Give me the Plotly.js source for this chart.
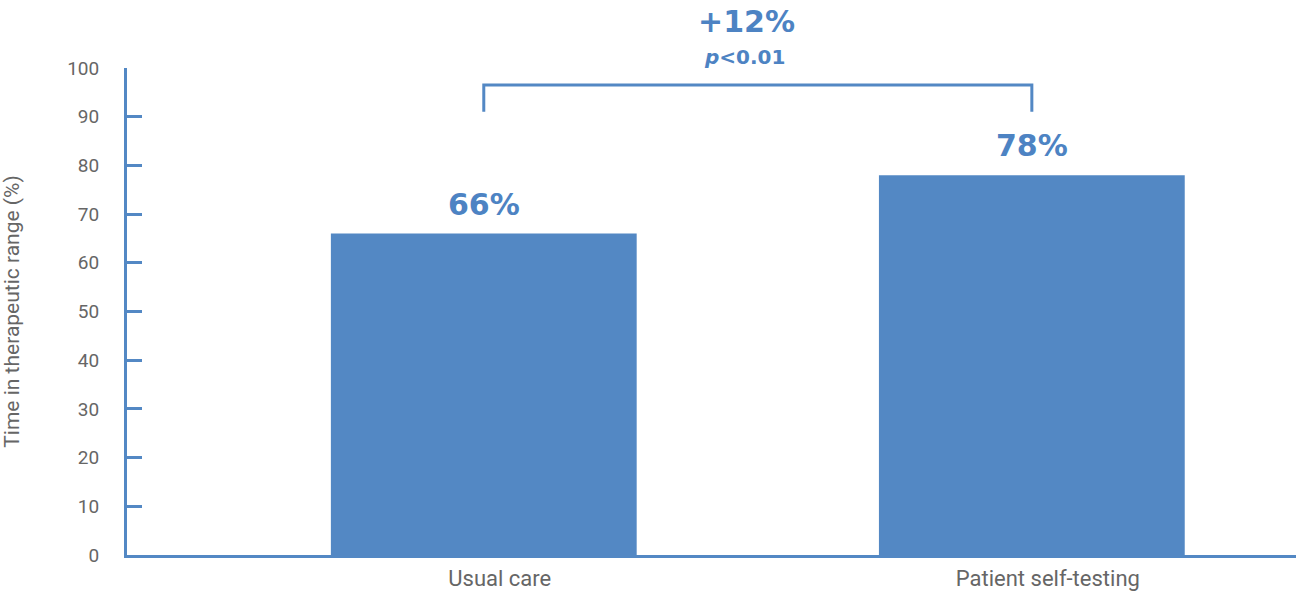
<!DOCTYPE html>
<html><head><meta charset="utf-8">
<script src="https://cdn.plot.ly/plotly-3.0.1.min.js"></script>
<style>html,body{margin:0;padding:0;background:#fff;}#chart{width:1296px;height:594px;}</style>
</head><body><div id="chart"></div>
<script>
const categories = ["Usual care", "Patient self-testing"];
const values = [66, 78];
const valueLabels = ["66%", "78%"];
const yTicks = [0, 10, 20, 30, 40, 50, 60, 70, 80, 90, 100];
const diffLabel = "+12%";
const pLabel = "<i>p</i>&lt;0.01";

const blue = "#5388c4";
const textBlue = "#4d83c3";
const gray = "#666666";
const xs = categories.map((c, i) => i);

const trace = {
  type: "bar", x: xs, y: values, width: 0.558,
  marker: {color: blue}, hoverinfo: "none"
};

const valueAnnotations = xs.map((x, i) => ({
  xref: "x", yref: "y", x: x, y: values[i], yanchor: "bottom", yshift: 10,
  text: valueLabels[i], showarrow: false,
  font: {family: "DejaVu Sans", size: 30, color: textBlue, weight: "bold"}
}));

const layout = {
  width: 1296, height: 594,
  margin: {l: 127, r: 0, t: 68, b: 39},
  paper_bgcolor: "#fff", plot_bgcolor: "#fff",
  showlegend: false,
  xaxis: {
    range: [-0.651, 1.482], tickvals: xs, ticktext: categories,
    showgrid: false, zeroline: false, showline: true, linecolor: blue, linewidth: 3,
    ticks: "", ticklabelstandoff: 2, ticklabelshift: 16,
    tickfont: {family: "Roboto", size: 22, color: gray},
    fixedrange: true
  },
  yaxis: {
    range: [0, 100], tickvals: yTicks,
    showgrid: false, zeroline: false, showline: true, linecolor: blue, linewidth: 3,
    ticks: "inside", ticklen: 15, tickwidth: 3, tickcolor: blue,
    ticklabelstandoff: 21,
    tickfont: {family: "Roboto", size: 19, color: gray},
    title: {text: "Time in therapeutic range (%)", font: {family: "Roboto", size: 21, color: gray}, standoff: 42},
    fixedrange: true
  },
  shapes: [{
    type: "path", xref: "x", yref: "y",
    path: `M ${xs[0]},91 L ${xs[0]},96.5 L ${xs[1]},96.5 L ${xs[1]},91`,
    line: {color: blue, width: 3}
  }],
  annotations: valueAnnotations.concat([
    {xref: "x", yref: "paper", x: (xs[0] + xs[1]) / 2, y: 1.0945, yanchor: "middle", xshift: -11,
     text: diffLabel, showarrow: false,
     font: {family: "DejaVu Sans", size: 30, color: textBlue, weight: "bold"}},
    {xref: "x", yref: "paper", x: (xs[0] + xs[1]) / 2, y: 1.0225, yanchor: "middle", xshift: -13,
     text: pLabel, showarrow: false,
     font: {family: "DejaVu Sans", size: 20, color: textBlue, weight: "bold"}}
  ])
};

Plotly.newPlot("chart", [trace], layout, {displayModeBar: false, staticPlot: true});
</script></body></html>
